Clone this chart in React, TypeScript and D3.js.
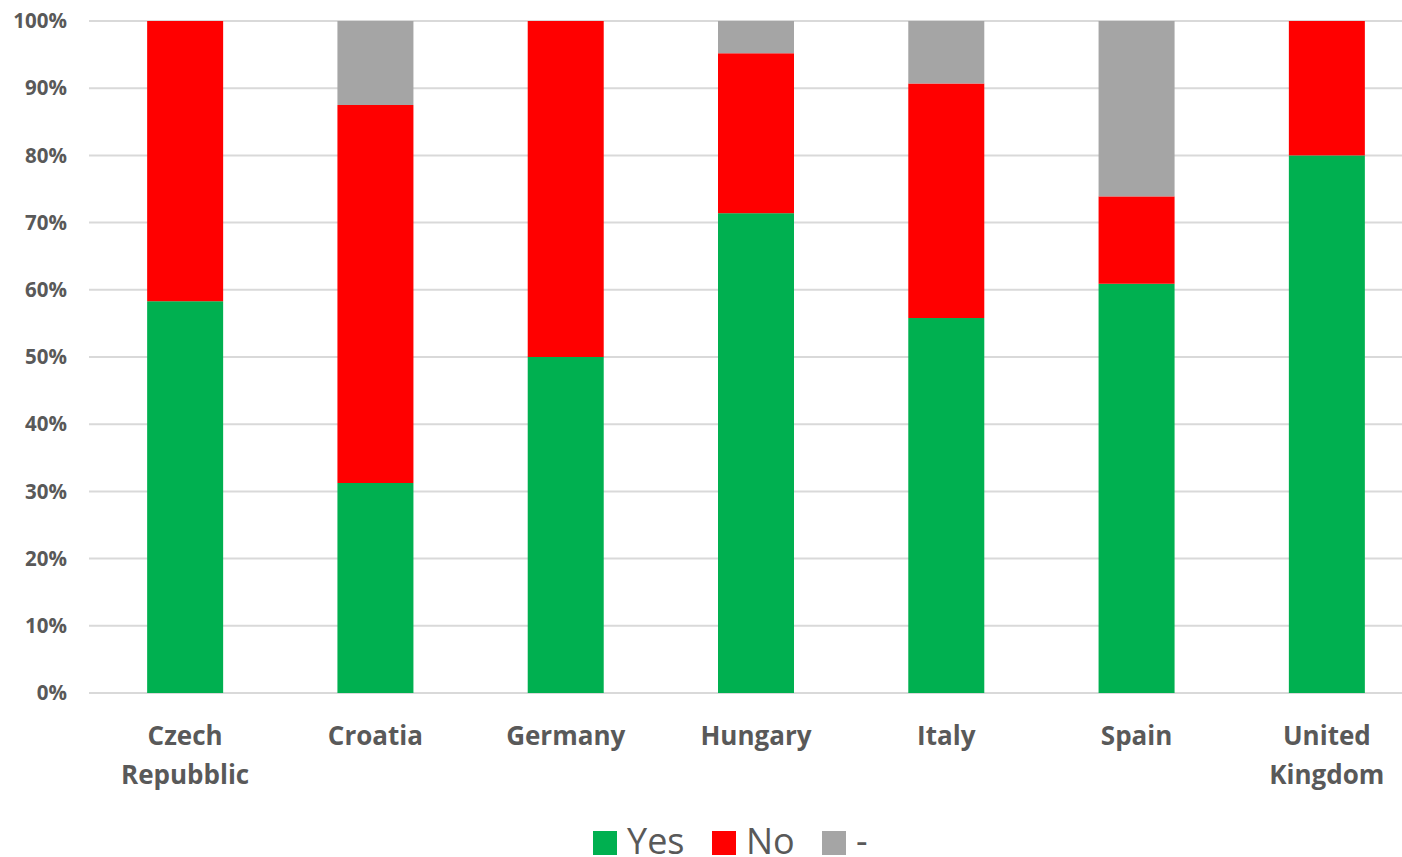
import React from "react";
import * as d3 from "d3";

const categories = ["Czech\nRepubblic", "Croatia", "Germany", "Hungary", "Italy", "Spain", "United\nKingdom"];
const yesValues = [58.3, 31.25, 50, 71.4, 55.8, 60.9, 80];
const noValues = [41.7, 56.25, 50, 23.8, 34.9, 13.0, 20];
const dashValues = [0, 12.5, 0, 4.8, 9.3, 26.1, 0];
const seriesNames = ["Yes", "No", "-"];
const seriesColors = ["#00B050", "#FF0000", "#A5A5A5"];
const yTicks = [0, 10, 20, 30, 40, 50, 60, 70, 80, 90, 100];

const W = 1402;
const H = 857;
const FONT = "'Open Sans', 'Liberation Sans', sans-serif";

export default function App() {
  const x = d3.scaleBand<string>().domain(categories).range([90, 1422]).paddingInner(0.6).paddingOuter(0.3);
  const y = d3.scaleLinear().domain([0, 100]).range([693, 21]);
  const rows = categories.map((c, i) => ({ cat: c, Yes: yesValues[i], No: noValues[i], "-": dashValues[i] }));
  const stack = d3.stack<any>().keys(seriesNames).offset(d3.stackOffsetExpand)(rows);
  const bw = 76;

  return (
    <svg width={W} height={H} style={{ position: "absolute", left: 0, top: 0, background: "#fff" }}>
      {yTicks.map((t) => (
        <g key={t}>
          <line x1={89} x2={1402} y1={y(t)} y2={y(t)} stroke="#D9D9D9" strokeWidth={2} />
          <text x={67} y={y(t)} dy="0.35em" textAnchor="end" fontFamily={FONT} fontWeight="bold" fontSize={20.5} fill="#595959">
            {t}%
          </text>
        </g>
      ))}
      {stack.map((s, si) => (
        <g key={s.key} fill={seriesColors[si]}>
          {s.map((d: any, i: number) => {
            const cx = (x(categories[i]) as number) + x.bandwidth() / 2;
            const y0 = y(d[0] * 100);
            const y1 = y(d[1] * 100);
            if (y0 - y1 <= 0) return null;
            return <rect key={i} x={cx - bw / 2} y={y1} width={bw} height={y0 - y1} />;
          })}
        </g>
      ))}
      {categories.map((c) => {
        const cx = (x(c) as number) + x.bandwidth() / 2;
        return (
          <text key={c} x={cx} y={745} textAnchor="middle" fontFamily={FONT} fontWeight="bold" fontSize={26} fill="#595959">
            {c.split("\n").map((line, li) => (
              <tspan key={li} x={cx} dy={li === 0 ? 0 : 39}>{line}</tspan>
            ))}
          </text>
        );
      })}
      {seriesNames.map((n, i) => {
        const lx = [593, 712, 822][i];
        return (
          <g key={n}>
            <rect x={lx} y={831} width={24} height={24} fill={seriesColors[i]} />
            <text x={lx + 34} y={854} fontFamily={FONT} fontSize={36} fill="#595959">{n}</text>
          </g>
        );
      })}
    </svg>
  );
}
